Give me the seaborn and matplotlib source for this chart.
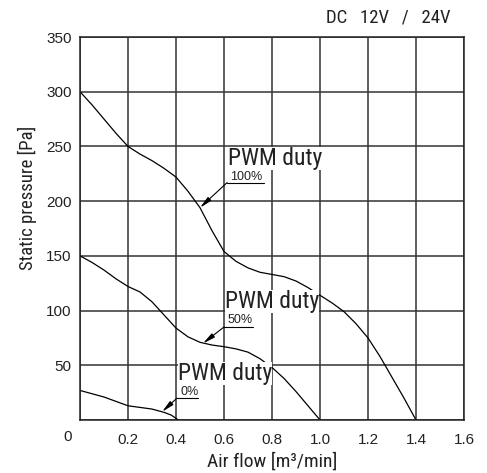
import numpy as np
import pandas as pd
import matplotlib
matplotlib.use("Agg")
import matplotlib.pyplot as plt
import matplotlib.transforms as mtransforms
from matplotlib import font_manager
import seaborn as sns

# ---- data ----
flow_100 = [0.0, 0.05, 0.1, 0.15, 0.2, 0.25, 0.3, 0.35, 0.4, 0.45, 0.5, 0.55, 0.6, 0.65, 0.7,
            0.75, 0.8, 0.85, 0.9, 0.95, 1.0, 1.05, 1.1, 1.15, 1.2, 1.25, 1.3, 1.35, 1.4]
pres_100 = [300, 288, 275, 262, 250, 243, 237, 230, 222, 209, 194, 173, 154, 145, 139,
            135, 133, 131, 127, 121, 114, 107, 99, 88, 75, 58, 39, 20, 0]

flow_50 = [0.0, 0.05, 0.1, 0.15, 0.2, 0.25, 0.3, 0.35, 0.4, 0.45, 0.5, 0.55, 0.6, 0.65, 0.7,
           0.75, 0.8, 0.85, 0.9, 0.95, 1.0]
pres_50 = [150, 144, 137, 129, 122, 117, 108, 96, 84, 76, 71, 68.5, 67, 65, 62,
           56, 48, 38, 26, 13, 0]

flow_0 = [0.0, 0.05, 0.1, 0.15, 0.2, 0.25, 0.3, 0.35, 0.38, 0.41]
pres_0 = [27, 24, 21, 17, 13, 11.5, 10, 7, 4.5, 0]

x_ticks = [0.2, 0.4, 0.6, 0.8, 1.0, 1.2, 1.4, 1.6]
x_tick_labels = ["0.2", "0.4", "0.6", "0.8", "1.0", "1.2", "1.4", "1.6"]
y_ticks = [50, 100, 150, 200, 250, 300, 350]
y_tick_labels = ["50", "100", "150", "200", "250", "300", "350"]
duty_labels = ["100%", "50%", "0%"]

df = pd.concat([
    pd.DataFrame({"flow": flow_100, "pressure": pres_100, "duty": "100%"}),
    pd.DataFrame({"flow": flow_50, "pressure": pres_50, "duty": "50%"}),
    pd.DataFrame({"flow": flow_0, "pressure": pres_0, "duty": "0%"}),
])

sns.set_theme(style="white")
installed = {f.name for f in font_manager.fontManager.ttflist}
cands = ["Liberation Sans Narrow", "Roboto Condensed", "Open Sans Condensed",
         "Noto Sans Condensed", "DejaVu Sans Condensed", "Arial Narrow"]
narrow = [c for c in cands if c in installed]
FONT = narrow + ["Liberation Sans", "DejaVu Sans"]
TICKFONT = ["Liberation Sans", "DejaVu Sans"]
plt.rcParams["font.family"] = FONT
scale = 1.0 if narrow else 0.88
INK = "#222222"

fig = plt.figure(figsize=(4.87, 4.73), dpi=100)
ax = fig.add_axes([80 / 487, 1 - 420 / 473, 384 / 487, 383 / 473])

sns.lineplot(data=df, x="flow", y="pressure", units="duty", estimator=None,
             sort=False, color="black", lw=0.9, ax=ax, legend=False)

ax.set_xlim(0, 1.6)
ax.set_ylim(0, 350)
ax.set_xticks([0] + x_ticks)
ax.set_xticklabels([""] + x_tick_labels, family=TICKFONT)
ax.set_yticks([0] + y_ticks)
ax.set_yticklabels([""] + y_tick_labels, family=TICKFONT)
ax.tick_params(axis="both", length=0, labelsize=11, colors=INK)
ax.tick_params(axis="x", pad=9)
ax.tick_params(axis="y", pad=6)
ax.grid(True, color="#333333", lw=1.1)
for s in ax.spines.values():
    s.set_color(INK)
    s.set_linewidth(1.1)

# corner "0" label
tr = mtransforms.offset_copy(ax.transData, fig=fig, x=-12, y=-17, units="dots")
ax.text(0, 0, "0", transform=tr, ha="center", va="center", fontsize=11,
        family=TICKFONT, color=INK)

ax.set_xlabel("Air flow [m³/min]", fontsize=14 * scale, labelpad=4, color=INK)
ax.set_ylabel("Static pressure [Pa]", fontsize=13.5 * scale, color=INK)
ax.yaxis.set_label_coords(-0.112, 0.58)

# annotations: (text x, big baseline y, small baseline y, underline y, underline x2, arrow tip)
annots = [
    (0.617, 233, 219.5, 217, 0.767, (0.5, 194)),
    (0.604, 102, 88.3, 85, 0.721, (0.5125, 70)),
    (0.408, 36.5, 22.5, 20, 0.492, (0.342, 7.5)),
]
for (tx, by, sy, uy, ux2, tip), lab in zip(annots, duty_labels):
    ax.text(tx, by, "PWM duty", fontsize=17 * scale, va="baseline", ha="left", color=INK,
            bbox=dict(facecolor="white", edgecolor="none", pad=0.0), zorder=5)
    ax.text(tx + 0.01, sy, lab, fontsize=9, family=TICKFONT, va="baseline", ha="left",
            color=INK, zorder=6)
    ax.plot([tx - 0.004, ux2], [uy, uy], color="black", lw=0.8, zorder=6)
    ax.annotate("", xy=tip, xytext=(tx - 0.004, uy),
                arrowprops=dict(arrowstyle="-|>,head_width=0.12,head_length=0.6",
                                color="black", lw=0.8, shrinkA=0, shrinkB=0),
                zorder=6)

fig.text(388 / 487, 1 - 18 / 473, "DC   12V   /   24V", ha="center", va="center",
         fontsize=13.5, color=INK)

fig.savefig("out.png", dpi=100)
